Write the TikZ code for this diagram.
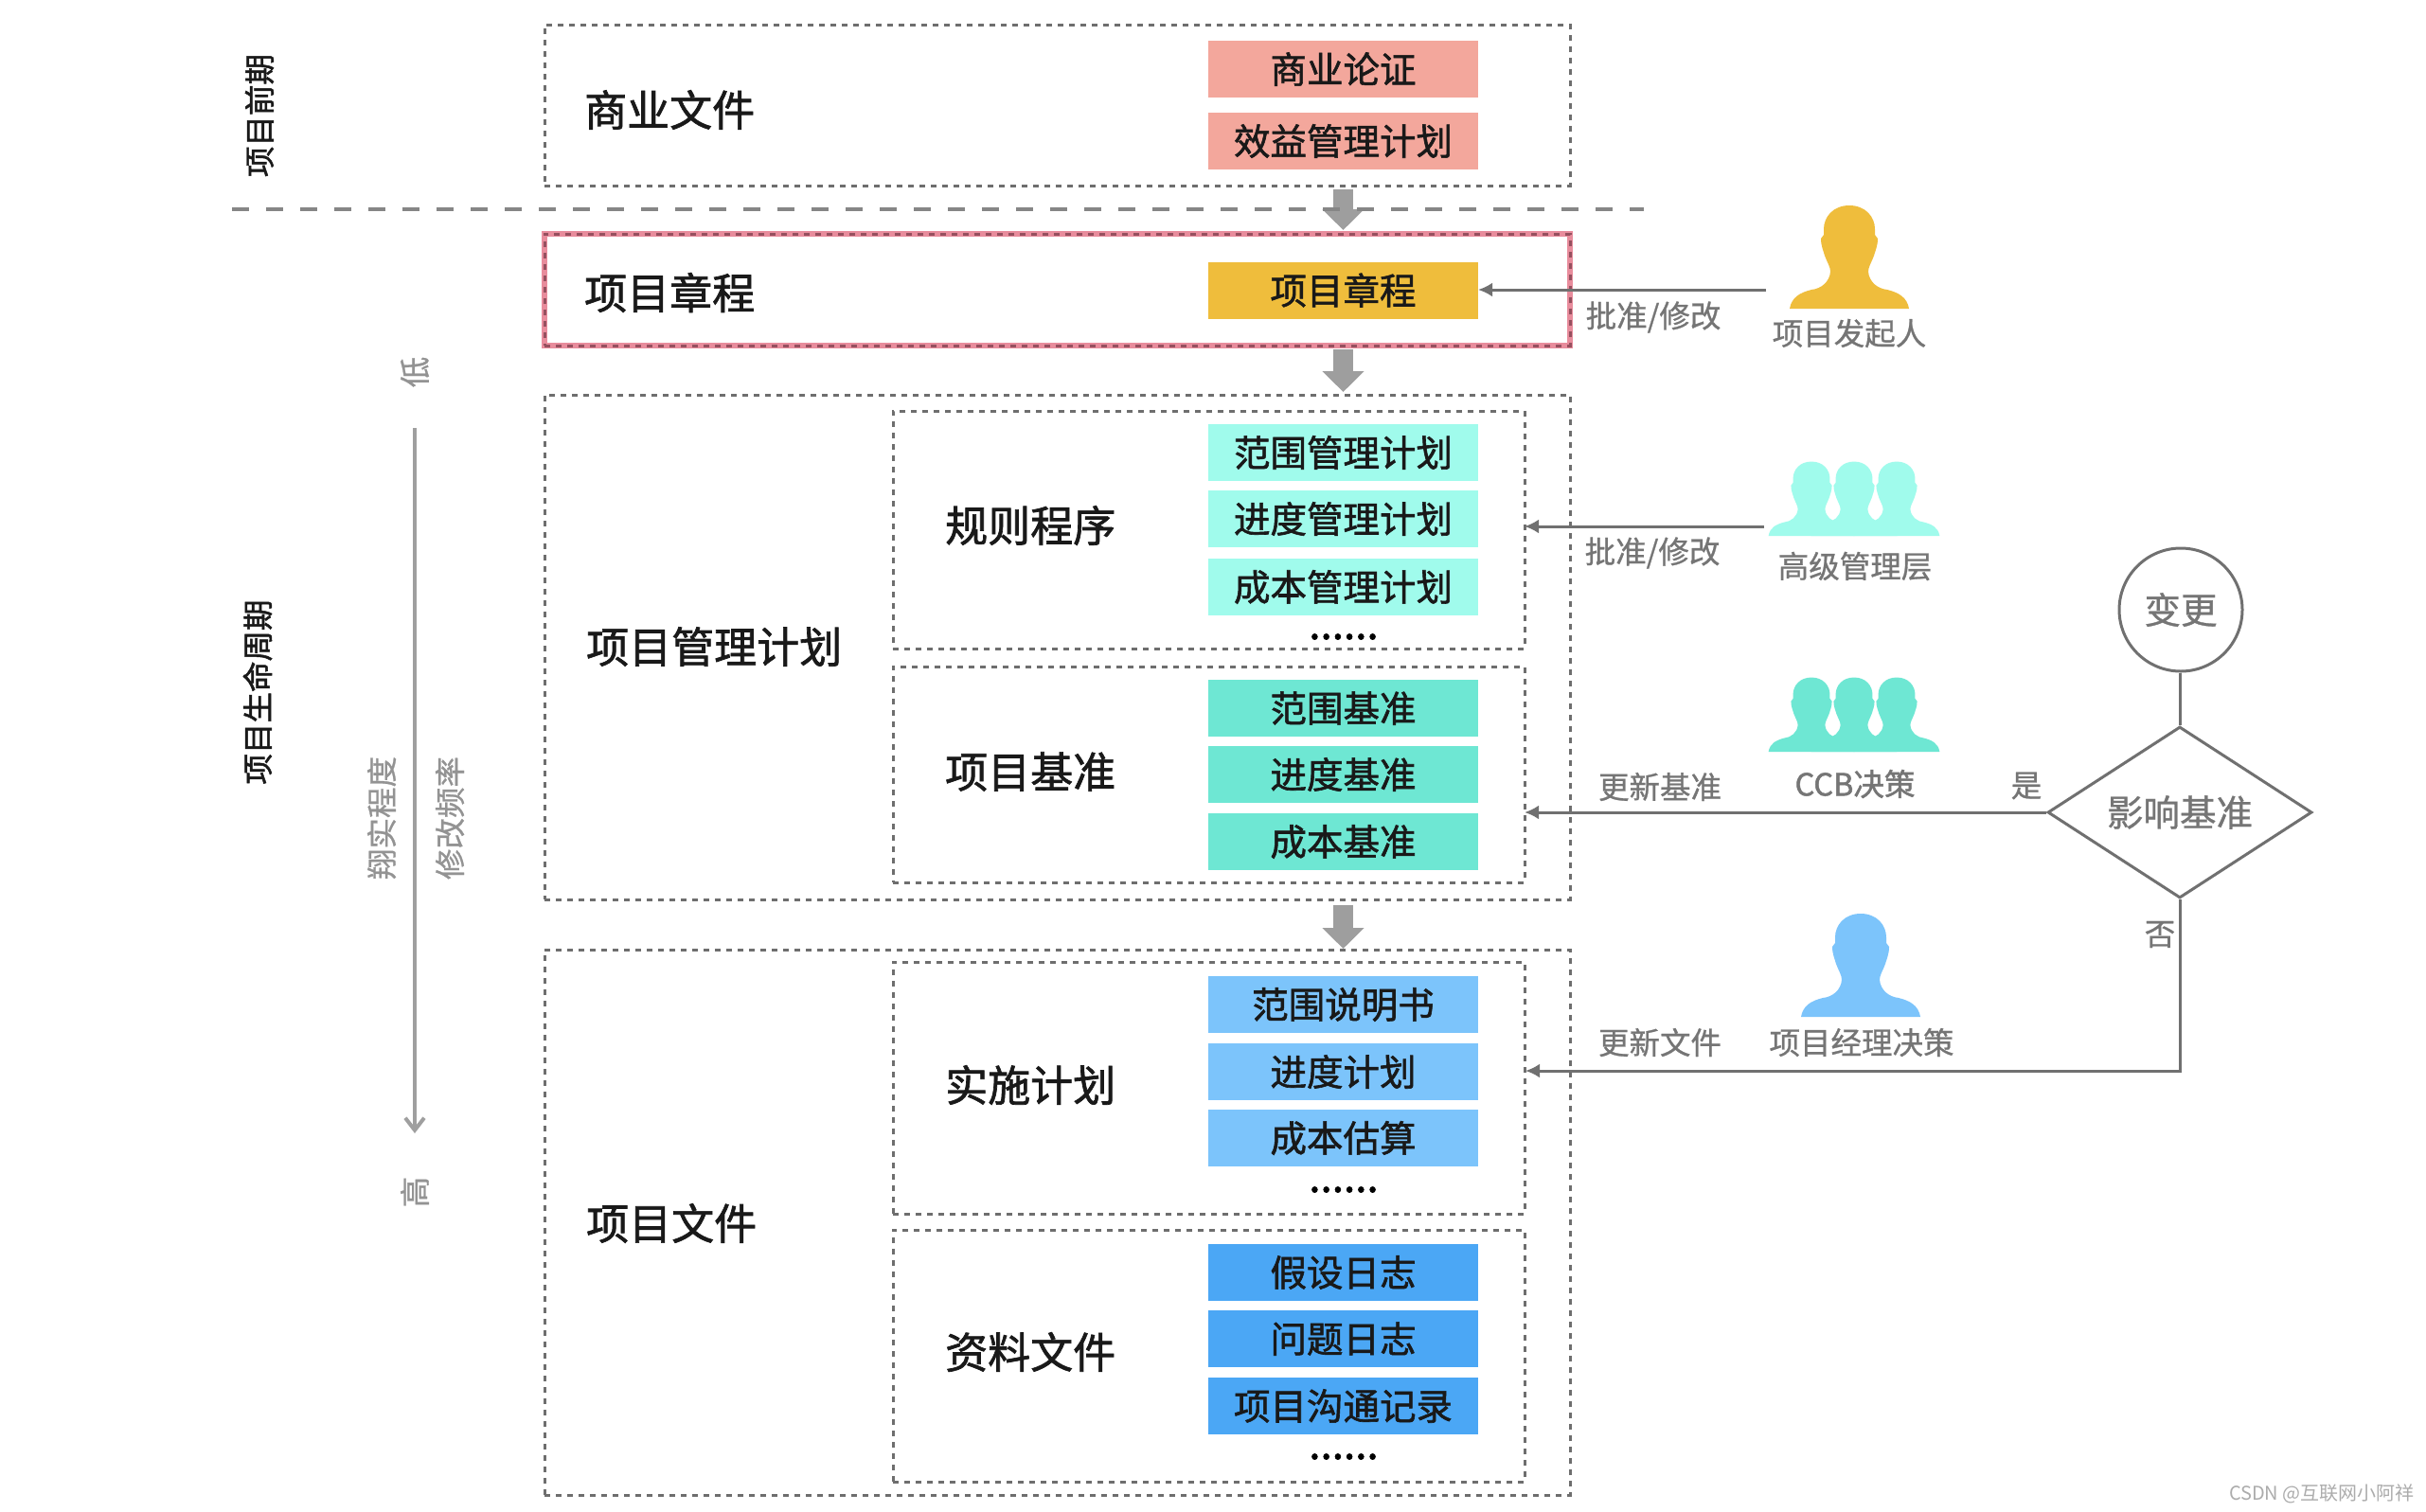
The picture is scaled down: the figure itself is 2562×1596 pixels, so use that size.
\documentclass[tikz,border=0pt]{standalone}
\usepackage{fontspec}
\usetikzlibrary{arrows.meta,shapes.geometric}
\setmainfont{Noto Sans CJK SC}
\newfontfamily\cjkm[FakeBold=1.5]{Noto Sans CJK SC}
\newfontfamily\cjkr[FakeBold=0.8]{Noto Sans CJK SC}
\newcommand{\fsz}[1]{\fontsize{#1pt}{#1pt}\selectfont}
\definecolor{dashgray}{HTML}{6E6E6E}
\definecolor{txtgray}{HTML}{757575}
\definecolor{linegray}{HTML}{707070}
\definecolor{cpink}{HTML}{F3A79C}
\definecolor{camber}{HTML}{EFBD3C}
\definecolor{ccyan}{HTML}{A0FBEC}
\definecolor{cteal}{HTML}{6EE7D3}
\definecolor{clblue}{HTML}{7CC4FB}
\definecolor{cblue}{HTML}{4BA7F5}
\definecolor{pinkedge}{HTML}{E88C9C}
\definecolor{rededge}{HTML}{96505F}
\definecolor{blockgray}{HTML}{9E9E9E}
\newcommand{\sperson}[4]{%
  \fill[#1,shift={(#2,#3)},scale=#4] (0,-109) .. controls (17,-109) and (27,-97) .. (27,-84)
      -- (27,-78) -- (30,-74) .. controls (30,-66) and (27,-60) .. (26,-56)
      .. controls (23,-48) and (20,-44) .. (20,-39)
      .. controls (21,-28) and (30,-21) .. (40,-20)
      .. controls (52,-17) and (61,-12) .. (63,0)
      -- (-63,0)
      .. controls (-61,-12) and (-52,-17) .. (-40,-20)
      .. controls (-30,-21) and (-21,-28) .. (-20,-39)
      .. controls (-20,-44) and (-23,-48) .. (-26,-56)
      .. controls (-27,-60) and (-30,-66) .. (-30,-74)
      -- (-27,-78) -- (-27,-84)
      .. controls (-27,-97) and (-17,-109) .. (0,-109) -- cycle;}
\tikzset{
  dashbox/.style={draw=dashgray,line width=3pt,dash pattern=on 6pt off 6pt,inner sep=0pt,outer sep=0pt,rectangle},
  redbox/.style={rectangle,inner sep=0pt,outer sep=0pt,
    draw=pinkedge,line width=6pt,
    postaction={draw=rededge,line width=3pt,dash pattern=on 6pt off 6pt}},
  itembox/.style={rectangle,inner sep=0pt,outer sep=0pt,minimum width=285pt,minimum height=60pt,
    font=\cjkm\fsz{38.5},text=black!90},
  head/.style={font=\cjkm\fsz{45},text=black!90,anchor=west,inner sep=0pt},
  graylabel/.style={font=\cjkr\fsz{32.5},text=txtgray,inner sep=0pt},
  sidelabel/.style={font=\cjkm\fsz{32.5},text=black!90,rotate=90,inner sep=0pt},
  scalelabel/.style={font=\cjkr\fsz{32.5},text=gray!85,rotate=90,inner sep=0pt},
  dots/.style={font=\cjkm\fsz{44},text=black,anchor=base,inner sep=0pt},
  flowline/.style={draw=linegray,line width=3pt,-{Latex[length=15pt,width=15pt]}},
  plainline/.style={draw=linegray,line width=3pt},
  blockarrow/.style={draw=blockgray,line width=21pt,-{Triangle[length=22pt,width=43pt]}},
  flowshape/.style={draw=linegray,line width=3pt,inner sep=0pt,font=\cjkr\fsz{38.5},text=txtgray},
}
\begin{document}
\begin{tikzpicture}[x=1pt,y=-1pt]
\useasboundingbox (0,0) rectangle (2562,1596);
\fill[white] (0,0) rectangle (2562,1596);

% containers
\node[dashbox,minimum width=1083pt,minimum height=170pt] (biz) at (1116.5,111) {};
\node[redbox,minimum width=1083pt,minimum height=118pt] (chbox) at (1116.5,306) {};
\node[dashbox,minimum width=1083pt,minimum height=533pt] (pm) at (1116.5,683.5) {};
\node[dashbox,minimum width=667pt,minimum height=251pt] (rules) at (1276.5,559.5) {};
\node[dashbox,minimum width=667pt,minimum height=228pt] (base) at (1276.5,818) {};
\node[dashbox,minimum width=1083pt,minimum height=576pt] (docs) at (1116.5,1291) {};
\node[dashbox,minimum width=667pt,minimum height=266pt] (impl) at (1276.5,1149) {};
\node[dashbox,minimum width=667pt,minimum height=266pt] (data) at (1276.5,1432) {};

% headings
\node[head] (h1) at (617,116) {商业文件};
\node[head] (h2) at (617,309) {项目章程};
\node[head] (h3) at (619,683) {项目管理计划};
\node[head] (h4) at (998,555) {规则程序};
\node[head] (h5) at (998,815) {项目基准};
\node[head] (h6) at (619,1292) {项目文件};
\node[head] (h7) at (998,1146) {实施计划};
\node[head] (h8) at (998,1428) {资料文件};

% item boxes
\node[itembox,fill=cpink] (i1) at (1418.5,73) {商业论证};
\node[itembox,fill=cpink] (i2) at (1418.5,149) {效益管理计划};
\node[itembox,fill=camber] (ch) at (1418.5,306.5) {项目章程};
\node[itembox,fill=ccyan] (r1) at (1418.5,478) {范围管理计划};
\node[itembox,fill=ccyan] (r2) at (1418.5,548) {进度管理计划};
\node[itembox,fill=ccyan] (r3) at (1418.5,620) {成本管理计划};
\node[dots] (d1) at (1419,675) {......};
\node[itembox,fill=cteal] (b1) at (1418.5,748) {范围基准};
\node[itembox,fill=cteal] (b2) at (1418.5,818) {进度基准};
\node[itembox,fill=cteal] (b3) at (1418.5,889) {成本基准};
\node[itembox,fill=clblue] (p1) at (1418.5,1061) {范围说明书};
\node[itembox,fill=clblue] (p2) at (1418.5,1132) {进度计划};
\node[itembox,fill=clblue] (p3) at (1418.5,1202) {成本估算};
\node[dots] (d2) at (1419,1259) {......};
\node[itembox,fill=cblue] (a1) at (1418.5,1344) {假设日志};
\node[itembox,fill=cblue] (a2) at (1418.5,1414) {问题日志};
\node[itembox,fill=cblue] (a3) at (1418.5,1485) {项目沟通记录};
\node[dots] (d3) at (1419,1541) {......};

% block arrows
\draw[blockarrow,shorten <=4pt,shorten >=4pt] (i2.south |- biz.south) -- (ch.north |- chbox.north);
\draw[blockarrow,shorten <=4pt,shorten >=3pt] (ch.south |- chbox.south) -- (r1.north |- pm.north);
\draw[blockarrow,shorten <=6pt,shorten >=1pt] (b3.south |- pm.south) -- (p1.north |- docs.north);

% divider
\coordinate (divL) at (245,221);
\coordinate (divR) at (1736,221);
\draw[draw=gray!95,line width=3.5pt,dash pattern=on 18pt off 18pt] (divL) -- (divR);

% side labels
\node[sidelabel] (s1) at (274,122) {项目前期};
\node[sidelabel] (s2) at (272,731) {项目生命周期};
\node[scalelabel] (low) at (438,393) {低};
\node[scalelabel] (high) at (438,1259) {高};
\node[scalelabel] (s3) at (403,864) {翔实程度};
\node[scalelabel] (s4) at (475,864) {修改频率};
\coordinate (scaleA) at (438,452);
\coordinate (scaleB) at (438,1197);
\draw[draw=gray!75,line width=4pt,-{Straight Barb[length=13pt,width=20pt]}] (scaleA) -- (scaleB);

% people
\sperson{camber}{1953}{326}{1}
\sperson{ccyan}{1913}{566}{.72}
\sperson{ccyan}{1958}{566}{.72}
\sperson{ccyan}{2003}{566}{.72}
\sperson{cteal}{1913}{794}{.72}
\sperson{cteal}{1958}{794}{.72}
\sperson{cteal}{2003}{794}{.72}
\sperson{clblue}{1965}{1074}{1}

% right-side flow
\node[flowshape,circle,minimum size=130pt] (chg) at (2303,644) {变更};
\node[flowshape,diamond,aspect=1.54,minimum width=279pt,minimum height=181pt] (dia) at (2302,858) {影响基准};
\draw[plainline] (chg.south -| dia.north) -- (dia.north);

\coordinate (sponsor) at (1865,306);
\coordinate (mgmt) at (1863,556);
\coordinate (nohook) at (1611,1131);
\draw[flowline] (sponsor) -- (ch.east |- sponsor);
\draw[flowline] (mgmt) -- (rules.east |- mgmt);
\draw[flowline] (dia.west) -- (base.east |- dia.west);
\draw[flowline] (dia.south) |- (nohook);

% gray labels
\node[graylabel] (l1) at (1746,335) {批准/修改};
\node[graylabel] (l2) at (1953,352) {项目发起人};
\node[graylabel] (l3) at (1745,584) {批准/修改};
\node[graylabel] (l4) at (1959,598) {高级管理层};
\node[graylabel] (l5) at (1753,831) {更新基准};
\node[graylabel,font=\cjkm\fsz{32.5}] (l6) at (1959,828) {CCB决策};
\node[graylabel] (l7) at (2140,830) {是};
\node[graylabel] (l8) at (2281,987) {否};
\node[graylabel] (l9) at (1753,1101) {更新文件};
\node[graylabel] (l10) at (1966,1101) {项目经理决策};

% watermark
\node[font=\fsz{20},text=gray!65,anchor=east,inner sep=0pt] (wm) at (2550,1578) {CSDN @互联网小阿祥};
\end{tikzpicture}
\end{document}
